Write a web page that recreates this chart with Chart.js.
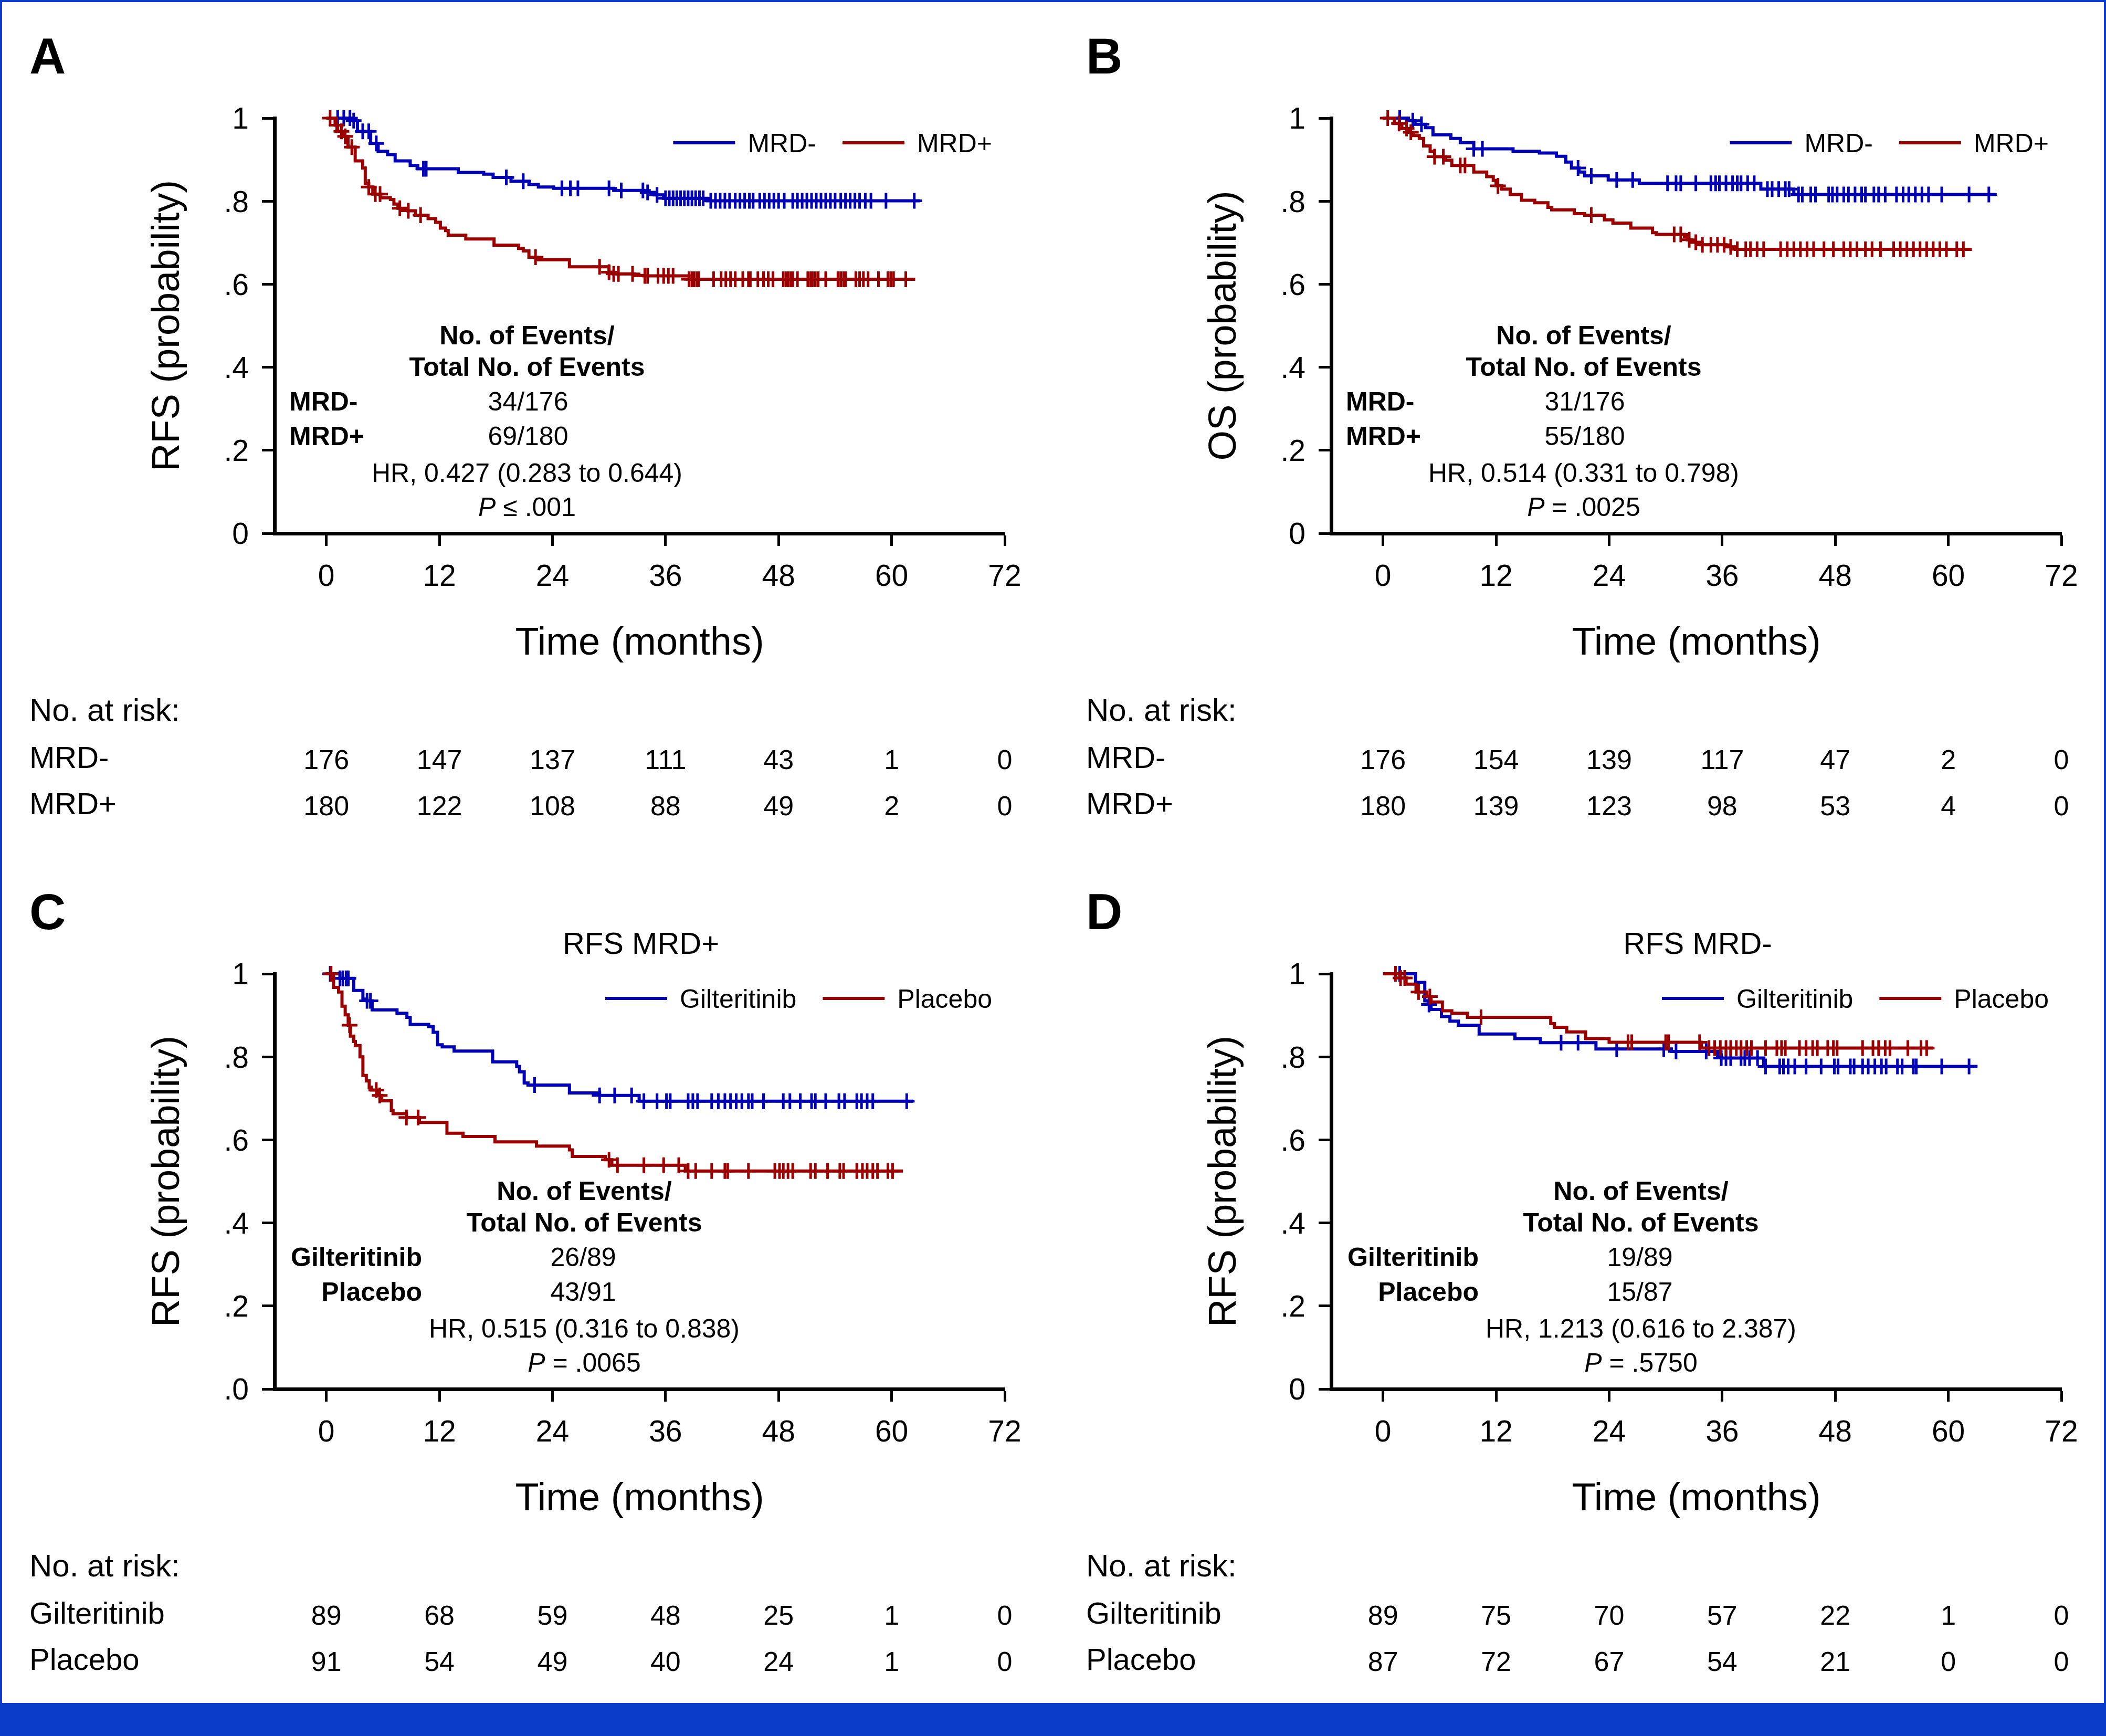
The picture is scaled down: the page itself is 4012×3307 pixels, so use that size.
<!DOCTYPE html>
<html>
<head>
<meta charset="utf-8">
<script src="https://cdn.jsdelivr.net/npm/chart.js@4.4.1/dist/chart.umd.min.js"></script>
<style>
  html, body { margin: 0; padding: 0; background: #fff; }
  #page { position: relative; width: 4012px; height: 3307px; background: #fff; overflow: hidden; }
  .frame { position: absolute; left: 0; top: 0; width: 4012px; height: 3244px; box-sizing: border-box;
           border: 4px solid #0b3cc9; border-bottom: none; }
  .band { position: absolute; left: 0; top: 3244px; width: 4012px; height: 63px; background: #0b3cc9; }
  canvas.panel { position: absolute; }
</style>
</head>
<body>
<div id="page">
  <div class="frame"></div>
  <div class="band"></div>
</div>
<script>
const FONT = '"Liberation Sans", Arial, sans-serif';
const BLUE = '#0000b4';
const RED = '#9a0000';

// Axis ticks
const timeTicks = [0, 12, 24, 36, 48, 60, 72];
const survTicks = [0, 0.2, 0.4, 0.6, 0.8, 1];
const survLabels = ['0', '.2', '.4', '.6', '.8', '1'];
const survLabelsC = ['.0', '.2', '.4', '.6', '.8', '1'];

// Panel A - RFS by MRD status
const aNegTimes = [0, 2.8, 3.3, 4.7, 5.5, 6.5, 7.3, 8.9, 9.7, 14.0, 16.7, 17.7, 19.6, 21.5, 22.5, 24.1, 30.5, 33.7, 34.8, 35.8, 40.4, 63.0];
const aNegSurv = [1, 0.994, 0.968, 0.939, 0.92, 0.912, 0.897, 0.886, 0.878, 0.869, 0.865, 0.857, 0.848, 0.84, 0.834, 0.831, 0.826, 0.821, 0.815, 0.807, 0.801, 0.801];
const aNegCens = [1.2, 1.85, 2.5, 2.9, 3.86, 4.5, 5.3, 10.3, 10.6, 19.1, 20.9, 25.0, 25.9, 26.7, 30.0, 31.3, 33.6, 34.1, 35.1,
  36.0, 36.4, 36.8, 37.2, 37.6, 38.0, 38.4, 38.8, 39.2, 39.6, 40.0, 40.8, 41.3, 41.8, 42.3, 42.8, 43.4, 43.9, 44.4, 44.9, 45.3,
  46.0, 46.5, 47.0, 47.5, 48.0, 48.6, 49.5, 50.0, 50.5, 51.0, 51.5, 52.0, 52.5, 53.0, 53.5, 54.0, 54.6, 55.1, 55.6, 56.1, 56.6,
  57.2, 57.8, 59.4, 62.4];
const aPosTimes = [0, 0.93, 1.2, 1.73, 2.3, 3.06, 3.86, 4.13, 4.5, 4.93, 5.73, 6.8, 7.17, 7.6, 8.66, 9.46, 10.8, 11.6, 12.1, 12.66, 12.93, 14.8, 17.8, 20.4, 20.9, 21.5, 22.4, 25.8, 30.0, 30.5, 32.7, 33.7, 38.5, 62.5];
const aPosSurv = [1, 0.983, 0.968, 0.956, 0.93, 0.897, 0.88, 0.842, 0.834, 0.817, 0.808, 0.804, 0.793, 0.783, 0.777, 0.766, 0.758, 0.749, 0.735, 0.729, 0.718, 0.709, 0.694, 0.686, 0.68, 0.665, 0.659, 0.642, 0.629, 0.625, 0.621, 0.62, 0.612, 0.612];
const aPosCens = [0.4, 1.1, 1.6, 2.0, 2.7, 4.5, 5.2, 5.7, 7.8, 8.7, 10.0, 22.2, 29.0, 30.0, 30.5, 31.0, 32.5, 33.8, 34.1, 35.2,
  35.8, 36.3, 36.8, 38.5, 38.8, 39.0, 39.3, 39.5, 41.1, 41.9, 42.4, 42.9, 43.4, 44.2, 44.8, 45.0, 45.8, 46.4, 46.9, 47.4, 48.5,
  48.8, 49.0, 49.3, 49.5, 50.0, 51.1, 51.4, 51.6, 51.9, 52.2, 53.0, 54.3, 54.6, 54.9, 55.1, 56.2, 56.6, 57.0, 57.5, 58.6, 59.6,
  59.9, 60.2, 61.5];
const aNegRisk = [176, 147, 137, 111, 43, 1, 0];
const aPosRisk = [180, 122, 108, 88, 49, 2, 0];
const aEvents = ['34/176', '69/180'];

// Panel B - OS by MRD status
const bNegTimes = [0, 2.7, 3.4, 4.5, 5.3, 7.2, 8.2, 9.63, 13.8, 16.6, 18.4, 19.4, 20.0, 20.8, 21.4, 23.9, 27.2, 40.1, 43.6, 65.1];
const bNegSurv = [1, 0.994, 0.985, 0.977, 0.96, 0.951, 0.941, 0.926, 0.92, 0.916, 0.908, 0.894, 0.88, 0.87, 0.861, 0.851, 0.843, 0.829, 0.816, 0.816];
const bNegCens = [1.77, 3.16, 4.08, 9.63, 10.55, 20.7, 22.1, 24.8, 26.5, 30.2, 31.1, 31.6, 33.2, 34.8, 35.3, 35.7, 36.4, 37.1,
  37.6, 38.0, 38.7, 39.4, 40.8, 41.3, 42.0, 42.7, 43.1, 44.1, 44.5, 45.4, 45.9, 47.3, 47.7, 48.2, 48.9, 49.4, 50.1, 50.8, 51.2,
  52.1, 52.6, 53.3, 54.5, 55.2, 55.8, 56.5, 57.2, 57.9, 59.3, 62.2, 64.3];
const bPosTimes = [0, 1.2, 2.0, 2.7, 3.2, 3.85, 4.3, 5.0, 5.47, 6.6, 7.3, 9.63, 11.0, 11.7, 12.0, 12.6, 13.5, 14.7, 16.1, 17.5, 17.9, 20.3, 21.4, 23.5, 24.4, 26.3, 28.6, 29.0, 32.0, 32.3, 32.7, 33.7, 36.4, 37.4, 62.5];
const bPosSurv = [1, 0.987, 0.975, 0.966, 0.958, 0.951, 0.933, 0.92, 0.907, 0.899, 0.886, 0.87, 0.859, 0.85, 0.837, 0.829, 0.816, 0.802, 0.796, 0.785, 0.779, 0.77, 0.766, 0.755, 0.747, 0.735, 0.724, 0.72, 0.714, 0.707, 0.701, 0.695, 0.69, 0.684, 0.684];
const bPosCens = [0.5, 1.7, 2.5, 2.95, 5.47, 6.4, 8.2, 8.7, 12.2, 22.1, 30.9, 31.6, 32.5, 33.2, 33.9, 34.8, 35.5, 36.2, 36.9,
  37.6, 38.5, 39.0, 39.7, 40.4, 42.2, 42.9, 43.6, 44.3, 45.0, 45.7, 46.8, 47.8, 48.9, 49.6, 50.3, 51.2, 51.9, 52.8, 54.2, 54.9,
  55.6, 56.3, 57.0, 57.7, 58.4, 59.1, 59.8, 60.9, 61.6];
const bNegRisk = [176, 154, 139, 117, 47, 2, 0];
const bPosRisk = [180, 139, 123, 98, 53, 4, 0];
const bEvents = ['31/176', '55/180'];

// Panel C - RFS in MRD+ by arm
const cGilTimes = [0, 1.44, 2.9, 3.88, 4.32, 4.86, 7.5, 8.55, 8.9, 10.86, 11.34, 11.8, 12.3, 13.56, 17.65, 20.2, 20.5, 21.0, 21.4, 25.8, 29.0, 33.2, 62.3];
const cGilSurv = [1, 0.989, 0.96, 0.939, 0.935, 0.913, 0.905, 0.895, 0.878, 0.873, 0.859, 0.829, 0.824, 0.814, 0.788, 0.777, 0.764, 0.737, 0.732, 0.713, 0.707, 0.693, 0.693];
const cGilCens = [0.41, 1.44, 1.75, 2.1, 2.33, 4.32, 4.68, 22.1, 29.0, 30.6, 32.4, 33.7, 35.1, 36.1, 36.5, 38.4, 38.9, 39.4,
  40.9, 41.6, 42.3, 42.9, 43.5, 44.1, 44.8, 45.2, 46.4, 48.5, 49.2, 50.3, 51.5, 51.9, 53.0, 54.4, 55.0, 56.3, 56.8, 57.4, 58.0, 61.6];
const cPlaTimes = [0, 0.77, 1.3, 1.66, 2.0, 2.32, 2.55, 2.9, 3.08, 3.57, 3.88, 4.24, 4.55, 4.77, 5.57, 5.88, 6.9, 7.08, 8.5, 9.88, 12.8, 14.5, 17.9, 22.3, 25.8, 26.1, 29.6, 30.3, 38.1, 61.2];
const cPlaSurv = [1, 0.967, 0.956, 0.922, 0.901, 0.876, 0.85, 0.837, 0.827, 0.8, 0.755, 0.742, 0.727, 0.72, 0.707, 0.694, 0.671, 0.663, 0.654, 0.642, 0.616, 0.608, 0.595, 0.585, 0.576, 0.56, 0.552, 0.539, 0.525, 0.525];
const cPlaCens = [0.5, 2.46, 5.3, 5.66, 8.5, 9.74, 30.0, 30.9, 33.7, 35.8, 37.4, 38.4, 39.2, 40.9, 42.3, 42.6, 44.8, 47.6, 48.1,
  48.5, 49.0, 49.5, 51.4, 51.9, 53.2, 54.5, 54.9, 56.3, 56.9, 57.4, 58.0, 58.5, 59.6, 60.1];
const cGilRisk = [89, 68, 59, 48, 25, 1, 0];
const cPlaRisk = [91, 54, 49, 40, 24, 1, 0];
const cEvents = ['26/89', '43/91'];

// Panel D - RFS in MRD- by arm
const dGilTimes = [0, 3.45, 4.43, 4.79, 5.1, 6.2, 7.1, 8.0, 10.2, 14.0, 16.7, 22.6, 30.6, 35.5, 35.9, 40.4, 63.1];
const dGilSurv = [1, 0.979, 0.935, 0.926, 0.914, 0.897, 0.886, 0.876, 0.855, 0.844, 0.834, 0.819, 0.813, 0.804, 0.797, 0.777, 0.777];
const dGilCens = [1.77, 4.88, 18.9, 20.7, 24.8, 29.8, 31.1, 34.3, 35.9, 36.4, 36.9, 38.0, 38.4, 38.9, 39.75, 40.6, 42.1, 42.5,
  43.0, 43.7, 44.9, 46.5, 47.9, 48.3, 49.6, 50.0, 50.9, 51.5, 52.2, 52.9, 53.4, 54.6, 55.1, 56.3, 56.6, 59.3, 62.2];
const dPlaTimes = [0, 1.77, 2.45, 3.5, 4.65, 5.1, 6.3, 7.3, 8.96, 17.8, 18.2, 19.5, 21.5, 24.0, 33.8, 58.4];
const dPlaSurv = [1, 0.99, 0.975, 0.956, 0.945, 0.932, 0.911, 0.905, 0.895, 0.88, 0.871, 0.86, 0.844, 0.835, 0.821, 0.821];
const dPlaCens = [1.32, 1.86, 2.3, 3.77, 4.97, 10.4, 26.0, 26.4, 30.0, 30.3, 33.6, 34.6, 35.2, 35.8, 36.4, 36.9, 37.5, 38.0,
  38.6, 39.1, 40.6, 41.8, 42.3, 42.7, 44.2, 44.9, 45.6, 46.1, 47.2, 47.8, 48.2, 50.9, 52.0, 52.6, 53.3, 53.8, 55.7, 57.1, 57.7];
const dGilRisk = [89, 75, 70, 57, 22, 1, 0];
const dPlaRisk = [87, 72, 67, 54, 21, 0, 0];
const dEvents = ['19/89', '15/87'];

const panels = [
  { letter: 'A', left: 0, top: 0, yTitle: 'RFS (probability)', yLabels: survLabels, title: '',
    groups: [
      { name: 'MRD-', color: BLUE, times: aNegTimes, surv: aNegSurv, cens: aNegCens, risk: aNegRisk },
      { name: 'MRD+', color: RED, times: aPosTimes, surv: aPosSurv, cens: aPosCens, risk: aPosRisk }
    ],
    events: aEvents, hr: 'HR, 0.427 (0.283 to 0.644)', p: '\u2264 .001', anno: 'left' },
  { letter: 'B', left: 2013, top: 0, yTitle: 'OS (probability)', yLabels: survLabels, title: '',
    groups: [
      { name: 'MRD-', color: BLUE, times: bNegTimes, surv: bNegSurv, cens: bNegCens, risk: bNegRisk },
      { name: 'MRD+', color: RED, times: bPosTimes, surv: bPosSurv, cens: bPosCens, risk: bPosRisk }
    ],
    events: bEvents, hr: 'HR, 0.514 (0.331 to 0.798)', p: '= .0025', anno: 'left' },
  { letter: 'C', left: 0, top: 1630, yTitle: 'RFS (probability)', yLabels: survLabelsC, title: 'RFS MRD+',
    groups: [
      { name: 'Gilteritinib', color: BLUE, times: cGilTimes, surv: cGilSurv, cens: cGilCens, risk: cGilRisk },
      { name: 'Placebo', color: RED, times: cPlaTimes, surv: cPlaSurv, cens: cPlaCens, risk: cPlaRisk }
    ],
    events: cEvents, hr: 'HR, 0.515 (0.316 to 0.838)', p: '= .0065', anno: 'right' },
  { letter: 'D', left: 2013, top: 1630, yTitle: 'RFS (probability)', yLabels: survLabels, title: 'RFS MRD-',
    groups: [
      { name: 'Gilteritinib', color: BLUE, times: dGilTimes, surv: dGilSurv, cens: dGilCens, risk: dGilRisk },
      { name: 'Placebo', color: RED, times: dPlaTimes, surv: dPlaSurv, cens: dPlaCens, risk: dPlaRisk }
    ],
    events: dEvents, hr: 'HR, 1.213 (0.616 to 2.387)', p: '= .5750', anno: 'right' }
];

const PANEL_W = 1999;
const PANEL_H = 1614;

// survival value of a step curve at time t (for placing censor marks)
function survAt(g, t) {
  let s = g.surv[0];
  for (let i = 0; i < g.times.length; i++) {
    if (g.times[i] <= t) s = g.surv[i];
  }
  return s;
}

// draw text with y = middle of the capitals
function capText(ctx, s, x, y, size, opts = {}) {
  ctx.font = `${opts.italic ? 'italic ' : ''}${opts.bold ? 'bold ' : ''}${size}px ${FONT}`;
  ctx.textAlign = opts.align || 'left';
  ctx.textBaseline = 'alphabetic';
  ctx.fillStyle = '#000';
  ctx.fillText(s, x, y + size * 0.358);
}

function textWidth(ctx, s, size, opts = {}) {
  ctx.font = `${opts.italic ? 'italic ' : ''}${opts.bold ? 'bold ' : ''}${size}px ${FONT}`;
  return ctx.measureText(s).width;
}

// Texts around each panel: tick labels, titles, legend, event table, numbers at risk
function panelText(p) {
  return {
    id: 'panelText',
    afterDraw(chart) {
      const ctx = chart.ctx;
      const xs = chart.scales.x;
      const ys = chart.scales.y;
      const area = chart.chartArea;
      ctx.save();

      capText(ctx, p.letter, 56, 106, 96, { bold: true });
      if (p.title) capText(ctx, p.title, 1221, 166, 58, { align: 'center' });

      timeTicks.forEach(v => capText(ctx, String(v), xs.getPixelForValue(v), 1096, 57, { align: 'center' }));
      survTicks.forEach((v, i) => capText(ctx, p.yLabels[i], 474, ys.getPixelForValue(v), 57, { align: 'right' }));

      capText(ctx, 'Time (months)', (area.left + area.right) / 2, 1221, 74, { align: 'center' });
      ctx.save();
      ctx.translate(315, (area.top + area.bottom) / 2);
      ctx.rotate(-Math.PI / 2);
      capText(ctx, p.yTitle, 0, 0, 74, { align: 'center' });
      ctx.restore();

      // legend, right aligned
      let lx = 1890;
      const ly = 272;
      for (let i = p.groups.length - 1; i >= 0; i--) {
        const g = p.groups[i];
        lx -= textWidth(ctx, g.name, 50);
        capText(ctx, g.name, lx, ly, 50);
        lx -= 24;
        ctx.strokeStyle = g.color;
        ctx.lineWidth = 6;
        ctx.beginPath();
        ctx.moveTo(lx - 118, ly);
        ctx.lineTo(lx, ly);
        ctx.stroke();
        lx -= 118 + 50;
      }

      // event table
      const rows = [638, 698, 764, 830, 900, 965];
      const mid = p.anno === 'left' ? 1004 : 1113;
      const col = p.anno === 'left' ? 1006 : 1111;
      capText(ctx, 'No. of Events/', mid, rows[0], 50, { bold: true, align: 'center' });
      capText(ctx, 'Total No. of Events', mid, rows[1], 50, { bold: true, align: 'center' });
      p.groups.forEach((g, i) => {
        if (p.anno === 'left') capText(ctx, g.name, 551, rows[2 + i], 50, { bold: true });
        else capText(ctx, g.name, 804, rows[2 + i], 50, { bold: true, align: 'right' });
        capText(ctx, p.events[i], col, rows[2 + i], 50, { align: 'center' });
      });
      capText(ctx, p.hr, mid, rows[4], 50, { align: 'center' });
      const pw = textWidth(ctx, 'P ', 50, { italic: true });
      const rw = textWidth(ctx, p.p, 50);
      const px = mid - (pw + rw) / 2;
      capText(ctx, 'P ', px, rows[5], 50, { italic: true });
      capText(ctx, p.p, px + pw, rows[5], 50);

      // numbers at risk
      capText(ctx, 'No. at risk:', 56, 1352, 60);
      const riskY = [1442, 1530];
      p.groups.forEach((g, i) => {
        capText(ctx, g.name, 56, riskY[i], 58);
        g.risk.forEach((n, j) => capText(ctx, String(n), xs.getPixelForValue(timeTicks[j]), riskY[i] + 4, 52, { align: 'center' }));
      });

      ctx.restore();
    }
  };
}

function makePanel(p) {
  const canvas = document.createElement('canvas');
  canvas.className = 'panel';
  canvas.width = PANEL_W;
  canvas.height = PANEL_H;
  canvas.style.left = p.left + 'px';
  canvas.style.top = p.top + 'px';
  document.getElementById('page').appendChild(canvas);

  // red group first so it is drawn on top
  const datasets = [];
  p.groups.slice().reverse().forEach(g => {
    datasets.push({
      label: g.name,
      data: g.times.map((t, i) => ({ x: t, y: g.surv[i] })),
      borderColor: g.color,
      borderWidth: 6,
      stepped: 'before',
      pointRadius: 0,
      fill: false,
      clip: false
    });
    datasets.push({
      label: g.name + ' censored',
      data: g.cens.map(t => ({ x: t, y: survAt(g, t) })),
      showLine: false,
      pointStyle: 'cross',
      pointRadius: 15,
      borderColor: g.color,
      borderWidth: 5,
      clip: false
    });
  });

  const axisGrid = { drawOnChartArea: false, drawTicks: true, tickLength: 24, tickWidth: 5, color: '#000', tickColor: '#000' };
  const axisBorder = { display: true, color: '#000', width: 7 };

  new Chart(canvas, {
    type: 'line',
    data: { datasets },
    options: {
      responsive: false,
      animation: false,
      events: [],
      layout: { padding: { left: 0, top: 225, right: PANEL_W - 1914, bottom: PANEL_H - 1016 - 60 } },
      plugins: { legend: { display: false }, tooltip: { enabled: false } },
      scales: {
        x: {
          type: 'linear', min: -5.5, max: 72,
          afterBuildTicks: s => { s.ticks = timeTicks.map(v => ({ value: v })); },
          afterFit: s => { s.height = 60; },
          ticks: { display: false },
          grid: axisGrid,
          border: axisBorder
        },
        y: {
          type: 'linear', min: 0, max: 1,
          afterBuildTicks: s => { s.ticks = survTicks.map(v => ({ value: v })); },
          afterFit: s => { s.width = 523; },
          ticks: { display: false },
          grid: axisGrid,
          border: axisBorder
        }
      }
    },
    plugins: [panelText(p)]
  });
}

panels.forEach(makePanel);
</script>
</body>
</html>
